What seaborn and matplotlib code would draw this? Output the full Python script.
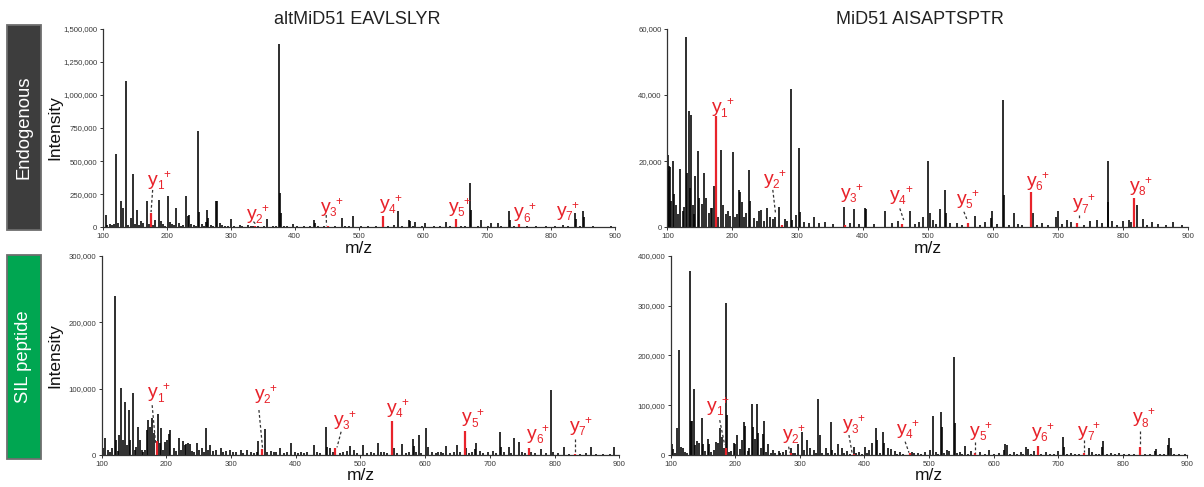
import matplotlib
matplotlib.use("Agg")
import matplotlib.pyplot as plt
import matplotlib.transforms as mtransforms
from matplotlib.ticker import StrMethodFormatter, MultipleLocator
from matplotlib.patches import Rectangle
import pandas as pd
import seaborn as sns

# ---------------------------------------------------------------- data
# altMiD51 EAVLSLYR, endogenous (intensities in thousands)
endo_alt_mz = [101, 104.5, 120.3, 128.8, 131, 136.3, 143.7, 146.8, 153, 160, 168.8, 181, 187.3, 191,
               201.3, 205, 215, 219, 229.4, 232.5, 235, 248.7, 250.8, 261, 262.8, 265, 276.8, 278.6,
               283, 300, 314.6, 327.6, 357, 375.2, 377, 378.6, 397.4, 429.7, 431.2, 473.4, 490.6,
               561.3, 577.6, 579.2, 588, 603.6, 636, 674.2, 675.6, 690.6, 706.8, 716.7, 734.4, 736.5,
               818.8, 837, 838.6, 850.2, 852,
               107, 112, 115, 118, 124, 139, 150, 156, 163, 172, 178, 194, 197, 208, 211, 223, 226,
               238, 242, 245, 255, 258, 269, 272, 287, 291, 295, 305, 309, 318, 322, 331, 335, 342,
               347, 352, 362, 366, 370, 383, 388, 393, 403, 408, 414, 420, 424, 436, 441, 446, 456,
               462, 467, 479, 484, 496, 503, 509, 515, 521, 527, 545, 550, 555, 568, 572, 584, 593,
               598, 611, 617, 626, 631, 642, 646, 660, 665, 681, 686, 697, 701, 712, 722, 727, 742,
               757, 763, 770, 777, 786, 793, 800, 806, 812, 827, 832, 845, 859, 866, 875, 885, 893]
endo_alt_int = [43, 94, 550, 197, 145, 1105, 69, 403, 129, 51, 198, 56, 207, 48,
                238, 43, 149, 36, 238, 89, 94, 730, 112, 43, 131, 69, 195, 195,
                36, 60, 15, 15, 64, 1388, 257, 106, 24, 55, 35, 68, 86,
                126, 55, 50, 43, 35, 38, 337, 131, 55, 30, 33, 121, 55,
                18, 111, 60, 126, 80,
                18, 22, 14, 25, 30, 20, 26, 16, 35, 22, 14, 28, 12, 24, 18, 10, 20,
                26, 14, 12, 22, 9, 18, 11, 14, 8, 12, 10, 6, 8, 5, 9, 7, 12,
                6, 9, 5, 8, 11, 7, 10, 5, 9, 6, 8, 5, 7, 12, 6, 9, 5,
                8, 6, 10, 7, 5, 9, 6, 8, 5, 7, 10, 6, 14, 9, 5, 8, 6,
                10, 5, 7, 9, 6, 8, 5, 12, 7, 6, 9, 5, 8, 6, 10, 5, 7,
                6, 8, 5, 9, 6, 7, 5, 8, 6, 9, 5, 7, 6, 8, 5, 6, 7]
endo_alt_ion_mz = [175.12, 338.18, 451.27, 538.30, 651.38, 750.45, 821.49]
endo_alt_ion_int = [105, 8, 12, 86, 60, 25, 6]
endo_alt_lab_mz = [171.4, 325, 440.6, 533, 641, 742.7, 809]
endo_alt_lab_int = [320, 65, 116, 136, 116, 75, 88]
endo_alt_dash = [(178, 282, 175.5, 115), (335.4, 43, 340.6, 15), (449, 93, 449.5, 15)]

# MiD51 AISAPTSPTR, endogenous (intensities in thousands)
endo_mid_mz = [100.5, 101.5, 102.6, 104, 106, 109, 111, 114, 116.5, 119.5, 123.6, 126, 128.7, 131,
               132.8, 134.5, 135.9, 139, 141, 143, 146.7, 148, 152.8, 157, 159.5, 163.6, 167, 168.7,
               172.2, 178, 182.3, 186, 190, 193, 196, 200.6, 204, 207, 210, 211.8, 215.4, 218, 220.5,
               226, 227.7, 233, 237, 240.5, 244.6, 249, 253.8, 257, 262, 266, 272, 280, 284, 289.7,
               291, 297.4, 301.5, 304, 310, 318, 326, 333, 342.6, 355, 370.8, 380, 387, 395, 404,
               405.6, 418, 433.8, 445, 455, 473, 480, 486, 493, 501, 503, 507.7, 512, 518.5, 527,
               528.7, 533.8, 545, 552, 573, 580, 587.7, 597.4, 599, 606, 615.9, 617, 625, 632.3,
               638.5, 645, 661.5, 668, 676, 685, 697, 700, 706, 714, 719.5, 740, 748.7, 759.5, 767,
               776, 777.4, 783.6, 790, 799, 809, 811.8, 820.5, 829.7, 837, 845, 854, 865, 876, 891]
endo_mid_int = [21.8, 17, 18.6, 18.3, 8, 20, 10, 6.7, 4, 17.5, 5, 6.2, 57.6, 16.3,
                35.1, 12, 33.9, 6.7, 4, 15.5, 23, 9, 7, 16.3, 8.8, 4.2, 5.7, 5.7,
                12.6, 3, 23.4, 6.7, 4, 5, 3.5, 22.7, 3.2, 4, 11.3, 10.8, 7.7, 3, 4.2,
                17.3, 8, 2.7, 2, 5, 5.2, 2, 5.7, 3.2, 2.5, 3, 6.2, 2.4, 2, 41.7,
                2.2, 3.7, 24, 4.7, 1.5, 1.2, 3, 1.4, 1.7, 1, 6, 1.2, 5.4, 1, 5.7,
                5.4, 1, 4.9, 1.2, 1.9, 5, 1, 1.7, 3, 20, 4.2, 2.2, 1, 5.4, 11.3,
                4.2, 1.4, 1.2, 0.8, 3.5, 0.8, 1.7, 2.7, 5, 1, 38.6, 9.8, 0.8, 4.2,
                1, 0.8, 4.2, 0.8, 1.4, 0.8, 3, 4.9, 1, 2.2, 1.7, 0.8, 2, 2.2, 1.2,
                20, 7.7, 1.9, 0.8, 1.9, 2.2, 1.7, 6.7, 2.4, 0.8, 1.7, 1, 0.6, 1.7, 0.7]
endo_mid_ion_mz = [175.12, 276.17, 373.22, 460.25, 561.30, 658.35, 729.39, 816.42]
endo_mid_ion_int = [33.7, 0.6, 0.7, 1.0, 1.4, 10.8, 1.2, 9.0]
endo_mid_lab_mz = [168, 248.7, 367, 442.6, 545, 651.8, 723, 810]
endo_mid_lab_int = [34.7, 13.1, 8.9, 8.2, 7.0, 12.6, 5.7, 11.1]
endo_mid_dash = [(262, 11.3, 266, 4.5), (457, 5.7, 463, 2.2), (555.4, 4.7, 560.5, 2.2),
                 (732.8, 3.7, 732.8, 2.2)]

# altMiD51 EAVLSLYR, SIL peptide (intensities in thousands)
sil_alt_mz = [101.5, 105, 110, 113, 116.5, 120, 122, 125, 127.4, 129.5, 132.6, 136.7, 139, 141.9,
              144.5, 148, 151, 153, 155.9, 158.5, 162, 164, 167, 169.8, 171.4, 174.5, 177.6, 180.7,
              186.4, 189.5, 192, 195, 198, 200.9, 204, 206, 211, 215, 219, 222, 225.7, 228, 230.4,
              233, 236, 240, 243, 247.4, 251, 255, 258, 261.4, 264, 267, 272, 277.4, 283.7, 288,
              292, 298, 303, 308, 314.7, 319, 324, 330, 335, 339.5, 342, 352.5, 356, 361, 366, 370,
              375.7, 381, 386, 393, 398, 403, 407.8, 413, 418, 427.5, 432, 438, 446.6, 447.8, 453,
              457, 468, 473, 479, 484, 489.5, 495, 503.5, 510, 516, 521, 526.8, 531, 536, 541, 552,
              556, 564.3, 570, 575, 580.9, 582.5, 586, 590, 594, 601.6, 604, 610, 616, 620, 623.8,
              628, 632.6, 638, 645, 649.7, 654, 663.6, 668, 672, 676.6, 678.2, 684, 690, 697, 705,
              710, 715.4, 717.2, 722, 728.8, 733, 737.6, 744.3, 750, 754, 763.5, 770, 778.5, 786,
              795, 798, 806, 815, 822, 840, 848.8, 857, 864, 875, 885, 892]
sil_alt_int = [10, 25.6, 7.5, 4, 10, 239, 22.6, 6, 30, 101, 22.6, 80, 15, 67,
               22.6, 94, 7.5, 12, 41.6, 22.6, 8, 5, 7.5, 37.6, 52.7, 41.6, 55, 32.6,
               61.7, 17.6, 40, 8, 20, 22.6, 31.6, 37.6, 10, 6, 25, 8, 21, 15, 17,
               18, 16.5, 6, 5, 17.6, 8, 10, 5, 40, 7, 15, 6, 7.5, 10, 4,
               6, 7.5, 4, 5, 7.5, 3, 7.5, 4, 3, 5, 21.6, 39, 5, 6.5, 4, 5,
               10, 3, 4, 18.6, 4, 3, 5, 3, 4, 15, 4, 3, 42.6, 12.5, 10,
               4, 3, 5, 6, 13.5, 7.5, 3, 15, 3, 4, 3, 18.6, 4, 5, 3, 10,
               3, 16, 3, 5, 23.6, 13.5, 5, 30, 3, 40, 12.5, 4, 3, 5, 5,
               3, 13.5, 3, 5, 15, 4, 10, 3, 4, 8.5, 18.6, 6, 3, 4, 6.5,
               3, 34.6, 12.5, 4, 11.5, 3, 25, 20, 4, 3, 5, 3, 8.5, 3,
               97.8, 5, 3, 12.5, 2, 2, 2.5, 11.5, 2, 2, 2, 11.5]
sil_alt_ion_mz = [185.13, 348.19, 461.27, 548.30, 661.38, 760.45, 831.49]
sil_alt_ion_int = [21, 8.5, 10, 51, 36, 11, 1.5]
sil_alt_lab_mz = [171.4, 336.4, 458.5, 540.5, 657.4, 757.8, 823]
sil_alt_lab_int = [86.8, 84, 45, 63, 49, 24, 36.6]
sil_alt_dash = [(178, 75, 183.3, 17.6), (343, 67.7, 348.8, 8.5), (470, 35, 463.7, 11.5),
                (832, 23.6, 832, 2.5)]

# MiD51 AISAPTSPTR, SIL peptide (intensities in thousands)
sil_mid_mz = [101.5, 104, 106, 109.2, 112.3, 115.4, 119.5, 122, 125, 129.2, 131.8, 133.3, 136.4, 138,
              141, 144, 147.7, 150, 153, 157.4, 159.5, 163, 167.7, 170.8, 173.8, 175.9, 179, 182,
              186, 187.2, 191, 194, 197.4, 200, 203, 207.7, 210.3, 213.3, 215.4, 219, 222, 226,
              227.7, 230.8, 233.8, 235.4, 240, 243.6, 244.6, 248, 250.8, 255, 258, 262, 267, 270,
              273.3, 278.5, 285.6, 288.7, 292, 297.4, 302.6, 306.7, 311.8, 316, 322, 325, 328.7,
              330.8, 335, 340, 344, 347.7, 350.3, 354, 359, 364.6, 368, 372.3, 377, 383.6, 387,
              391.3, 396, 401.5, 404, 407.7, 411.8, 418.5, 419.8, 424, 428.7, 430.8, 436.4, 441.5,
              447.7, 451, 455.4, 460, 473.3, 477.4, 483, 488, 493.8, 501.6, 506.2, 510.4, 514,
              518.7, 520.8, 524, 527.5, 531.7, 538.4, 540, 543, 547.3, 551, 556, 560, 565.5, 579.5,
              586, 593.5, 600, 608, 615.8, 618.4, 620.5, 626, 631.4, 636, 641.8, 646, 650.6, 653.8,
              658, 662.6, 674, 680.8, 688, 694, 700.5, 706.8, 708.3, 714, 719.7, 726, 732, 748.3,
              752.5, 758, 763, 768, 769.6, 775, 782, 788, 795, 802, 810, 817, 835, 843, 849.6, 852,
              858, 864, 870.4, 872, 874, 880, 887, 896.4]
sil_mid_int = [22, 11.4, 5, 53.5, 210.7, 16.7, 14.7, 6.7, 4, 369, 68, 68, 131.8, 20,
               28, 24.7, 73.6, 22, 8, 32, 22, 6, 10, 25.4, 24.7, 54.8, 36.8, 13.4,
               305.7, 80, 6, 8, 23.4, 22, 40, 11.4, 30, 65.5, 58.9, 8, 13.4, 102,
               56.9, 31.4, 101.7, 43.5, 13.4, 41.5, 68.9, 6, 22, 5, 10, 4, 8, 4,
               6.7, 10, 13.4, 3.3, 4, 22, 46.8, 10, 30, 14.7, 10, 4, 112.4,
               40, 5, 13.4, 5, 65.5, 10, 4, 22, 13.4, 4, 8.7, 3, 16.7, 4,
               6.7, 3, 15.4, 4, 10, 24.7, 53.5, 30, 4, 46.8, 23.4, 13.4, 11.4,
               8.7, 3, 6.7, 3, 6.7, 4.7, 4.7, 3, 6.7, 10, 78.3, 6.7, 3,
               87, 56.9, 4, 10, 8.7, 197.3, 64.9, 4, 6.7, 3, 18.7, 3, 8.7, 6.7,
               3, 10, 3, 4.7, 10, 22, 20, 3, 6.7, 3, 6.7, 3, 15.4, 11.4,
               3, 8.7, 3, 6.7, 3, 3, 8, 35.5, 16.7, 3, 4.7, 3, 3, 13.4,
               6.7, 3, 3, 16.7, 28.8, 3, 4.7, 3, 4.7, 3, 3, 3, 3, 3, 8.7, 11.4,
               3, 3, 20, 33.4, 13.4, 3, 3, 2]
sil_mid_ion_mz = [185.13, 286.17, 383.22, 470.25, 571.30, 668.35, 739.39, 826.42]
sil_mid_ion_int = [13.4, 3.3, 2, 3.3, 3.3, 18, 3.3, 16.7]
sil_mid_lab_mz = [156.4, 273.3, 366.7, 450.8, 563.9, 659, 731, 815.8]
sil_mid_lab_int = [88.3, 33, 52, 42, 38.8, 35.5, 38.8, 65.5]
sil_mid_dash = [(175.9, 70, 183.6, 20), (282.6, 16.7, 284.6, 4.7), (376, 40, 381, 3.3),
                (463, 26.8, 469, 4.7), (571.7, 26.8, 571.7, 4.7), (740.5, 30, 740.5, 6.7),
                (827.3, 48.8, 827.3, 18)]

titles = ["altMiD51 EAVLSLYR", "MiD51 AISAPTSPTR"]
row_labels = ["Endogenous", "SIL peptide"]
y_max = [1500, 60, 300, 400]
y_step = [250, 20, 100, 100]

# ---------------------------------------------------------------- style
sns.set_theme(style="ticks")
plt.rcParams["font.family"] = ["Liberation Sans", "DejaVu Sans"]
RED = "#e8232b"
AX_COLOR = "#333333"

fig = plt.figure(figsize=(12.04, 4.87), dpi=100)
W, H = 1204, 487


def px_axes(x0, x1, ytop, ybot):
    return fig.add_axes([x0 / W, (H - ybot) / H, (x1 - x0) / W, (ybot - ytop) / H])


axes = [px_axes(102.7, 615.0, 28.7, 227.3),
        px_axes(667.3, 1188.3, 28.7, 227.3),
        px_axes(101.7, 619.3, 255.7, 455.0),
        px_axes(670.7, 1187.3, 255.7, 455.0)]

panels = [
    (endo_alt_mz, endo_alt_int, endo_alt_ion_mz, endo_alt_ion_int, endo_alt_lab_mz, endo_alt_lab_int, endo_alt_dash),
    (endo_mid_mz, endo_mid_int, endo_mid_ion_mz, endo_mid_ion_int, endo_mid_lab_mz, endo_mid_lab_int, endo_mid_dash),
    (sil_alt_mz, sil_alt_int, sil_alt_ion_mz, sil_alt_ion_int, sil_alt_lab_mz, sil_alt_lab_int, sil_alt_dash),
    (sil_mid_mz, sil_mid_int, sil_mid_ion_mz, sil_mid_ion_int, sil_mid_lab_mz, sil_mid_lab_int, sil_mid_dash),
]


def ion_label(ax, x, y, n):
    ax.text(x, y, "y", color=RED, fontsize=14, ha="left", va="baseline", zorder=5)
    sub = mtransforms.offset_copy(ax.transData, fig=fig, x=6.3, y=-3.0, units="points")
    ax.text(x, y, str(n), transform=sub, color=RED, fontsize=8.5, ha="left", va="baseline", zorder=5)
    sup = mtransforms.offset_copy(ax.transData, fig=fig, x=10.5, y=5.0, units="points")
    ax.text(x, y, "+", transform=sup, color=RED, fontsize=8.5, ha="left", va="baseline", zorder=5)


for i, (ax, (mz, inten, ion_mz, ion_int, lab_mz, lab_int, dash)) in enumerate(zip(axes, panels)):
    spec = pd.DataFrame({"mz": mz, "intensity": [v * 1000 for v in inten]})
    ions = pd.DataFrame({"mz": ion_mz, "intensity": [v * 1000 for v in ion_int]})

    ax.vlines(spec["mz"], 0, spec["intensity"], color="black", linewidth=1.15, zorder=2)
    ax.vlines(ions["mz"], 0, ions["intensity"], color=RED, linewidth=1.6, zorder=3)

    for x0, y0, x1, y1 in dash:
        ax.plot([x0, x1], [y0 * 1000, y1 * 1000], color="#333333", linewidth=0.9,
                linestyle=(0, (2.2, 1.8)), zorder=4)
    for n, (lx, ly) in enumerate(zip(lab_mz, lab_int), start=1):
        ion_label(ax, lx, ly * 1000, n)

    ax.set_xlim(100, 900)
    ax.set_ylim(0, y_max[i] * 1000)
    ax.xaxis.set_major_locator(MultipleLocator(100))
    ax.yaxis.set_major_locator(MultipleLocator(y_step[i] * 1000))
    ax.yaxis.set_major_formatter(StrMethodFormatter("{x:,.0f}"))
    ax.tick_params(axis="both", labelsize=5.6, length=2.5, width=0.7, pad=1.5,
                   colors=AX_COLOR, labelcolor="#3a3a3a")
    sns.despine(ax=ax)
    for side in ("left", "bottom"):
        ax.spines[side].set_color(AX_COLOR)
        ax.spines[side].set_linewidth(0.9)
    ax.set_xlabel("m/z", fontsize=12.5, labelpad=0.5, color="#111111")
    if i % 2 == 0:
        ax.set_ylabel("Intensity", fontsize=12.5, color="#111111")
        w = ax.get_position().x0 * W
        ax.yaxis.set_label_coords((62.5 - w) / (ax.get_position().width * W), 0.5)
    if i < 2:
        ax.set_title(titles[i], fontsize=13, pad=3.4, color="#222222",
                     x=0.496 if i == 0 else 0.484)

# row strips on the left
for label, (ytop, ybot), face in zip(row_labels, [(25, 230), (254.7, 459.3)], ["#3d3d3d", "#00a651"]):
    fig.patches.append(Rectangle((6.7 / W, (H - ybot) / H), 34 / W, (ybot - ytop) / H,
                                 transform=fig.transFigure, facecolor=face,
                                 edgecolor="#6e6e6e", linewidth=1.3))
    fig.text(23.7 / W, (H - (ytop + ybot) / 2) / H, label, rotation=90, color="white",
             fontsize=13.3, ha="center", va="center")

fig.savefig("out.png", dpi=100)
